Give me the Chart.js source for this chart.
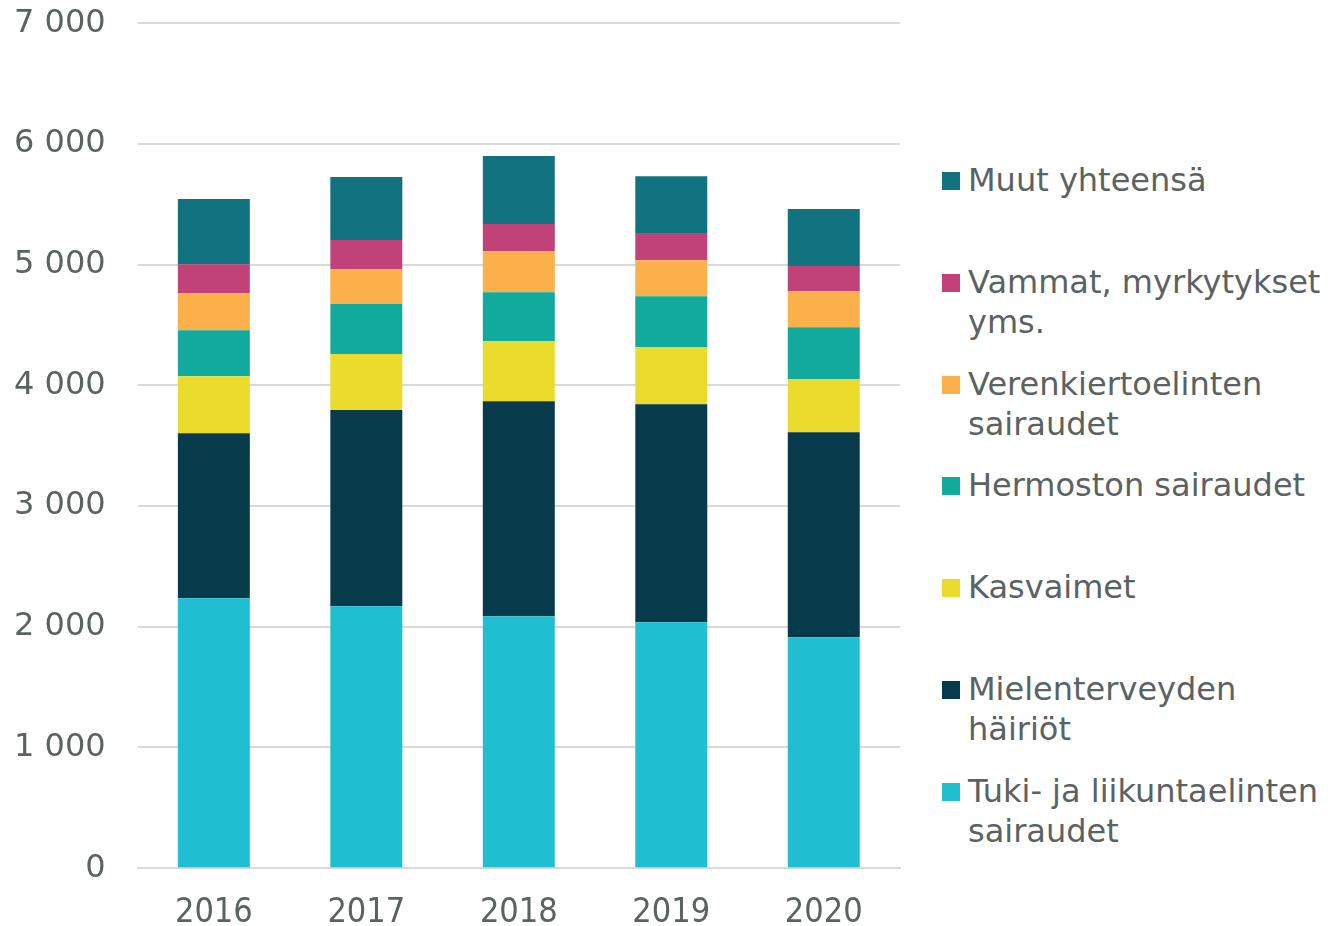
<!DOCTYPE html>
<html>
<head>
<meta charset="utf-8">
<script src="https://cdn.jsdelivr.net/npm/chart.js@4"></script>
<style>
  html, body { margin: 0; padding: 0; background: #fff; overflow: hidden; }
  #wrap { position: relative; width: 1334px; height: 926px; overflow: hidden; }
  #chartBox { position: absolute; left: -31px; top: -28px; width: 941px; height: 987px; }
  #legend { position: absolute; left: 942px; top: 160px; font-family: "DejaVu Sans", Verdana, sans-serif; font-size: 32px; color: #5b6262; }
  .item { position: absolute; left: 0; width: 392px; line-height: 40px; padding-left: 26px; white-space: nowrap; }
  .swatch { position: absolute; left: 0; top: 12px; width: 18px; height: 18px; }
</style>
</head>
<body>
<div id="wrap">
  <div id="chartBox"><canvas id="mgChart"></canvas></div>
  <div id="legend"></div>
</div>
<script>
const years = ['2016', '2017', '2018', '2019', '2020'];

const tuki = [2237, 2171, 2088, 2038, 1914];
const mielen = [1367, 1624, 1781, 1806, 1698];
const kasvaimet = [472, 464, 497, 473, 439];
const hermosto = [381, 414, 406, 422, 431];
const verenkierto = [307, 290, 340, 298, 298];
const vammat = [240, 240, 224, 224, 208];
const muut = [539, 522, 563, 472, 472];

const yTicks = [0, 1000, 2000, 3000, 4000, 5000, 6000, 7000];

const textColor = '#5b6262';
const fontFamily = '"DejaVu Sans", Verdana, sans-serif';

// bottom to top
const series = [
    { label: ['Tuki- ja liikuntaelinten', 'sairaudet'], data: tuki, color: '#20bed1' },
    { label: ['Mielenterveyden', 'häiriöt'], data: mielen, color: '#073a4a' },
    { label: ['Kasvaimet'], data: kasvaimet, color: '#ebdb2d' },
    { label: ['Hermoston sairaudet'], data: hermosto, color: '#11aa9c' },
    { label: ['Verenkiertoelinten', 'sairaudet'], data: verenkierto, color: '#fbb04c' },
    { label: ['Vammat, myrkytykset', 'yms.'], data: vammat, color: '#c04278' },
    { label: ['Muut yhteensä'], data: muut, color: '#10737f' }
];

function buildLegend() {
    const legendDiv = document.getElementById('legend');
    const ordered = series.slice().reverse();
    ordered.forEach((s, i) => {
        const item = document.createElement('div');
        item.className = 'item';
        item.style.top = (i * 101.8) + 'px';
        item.innerHTML = `<span class="swatch" style="background:${s.color}"></span>` + s.label.join('<br>');
        legendDiv.appendChild(item);
    });
}

function initChart() {
    const ctx = document.getElementById('mgChart').getContext('2d');
    new Chart(ctx, {
        type: 'bar',
        data: {
            labels: years,
            datasets: series.map(s => ({
                label: s.label.join(' '),
                data: s.data,
                backgroundColor: s.color,
                borderWidth: 0,
                categoryPercentage: 1,
                barPercentage: 0.472
            }))
        },
        options: {
            responsive: true,
            maintainAspectRatio: false,
            animation: false,
            layout: { padding: { top: 0, right: 10, left: 13, bottom: 0 } },
            plugins: { legend: { display: false }, tooltip: { enabled: false } },
            scales: {
                x: {
                    stacked: true,
                    grid: { display: false, drawTicks: false },
                    border: { display: true, color: '#d9d9d9', width: 2 },
                    ticks: {
                        color: textColor,
                        padding: 25,
                        font: { family: '"DejaVu Sans Condensed", "DejaVu Sans", sans-serif', size: 34 }
                    }
                },
                y: {
                    stacked: true,
                    min: 0,
                    max: 7000,
                    afterBuildTicks: axis => { axis.ticks = yTicks.map(v => ({ value: v })); },
                    grid: { color: '#d9d9d9', lineWidth: 2, drawTicks: false },
                    border: { display: false },
                    ticks: {
                        color: textColor,
                        padding: 32,
                        font: { family: fontFamily, size: 32 },
                        callback: v => v === 0 ? '0' : String(v).replace(/\B(?=(\d{3})+(?!\d))/g, ' ')
                    }
                }
            }
        }
    });
}

buildLegend();
initChart();
</script>
</body>
</html>
